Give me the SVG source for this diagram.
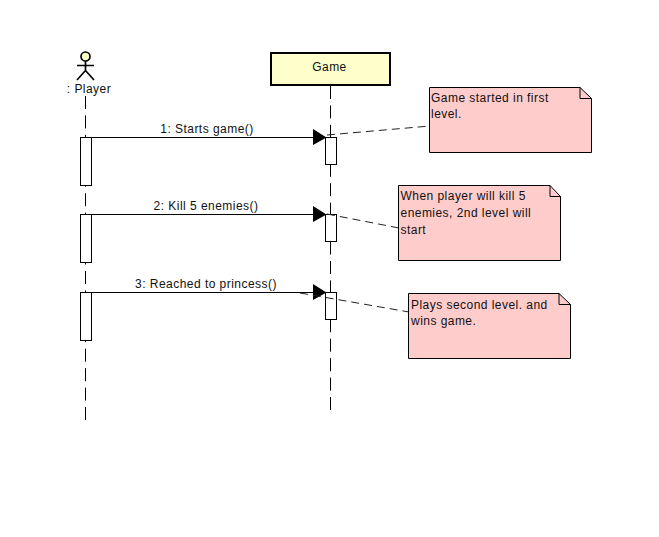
<svg xmlns="http://www.w3.org/2000/svg" width="659" height="537" viewBox="0 0 659 537">
<style>
text{font-family:"Liberation Sans",Arial,sans-serif;font-size:12px;letter-spacing:.46px;fill:#111}
.ll{stroke:#000;stroke-width:1;stroke-dasharray:13 6.44;fill:none}
.act{fill:#fff;stroke:#000;stroke-width:1}
.msg{stroke:#000;stroke-width:1;fill:none}
.head{fill:#000;stroke:none}
.nl{stroke:#222;stroke-width:1;stroke-dasharray:8 5;fill:none}
.note{fill:#ffcccc;stroke:#000;stroke-width:1}
.fold{fill:none;stroke:#000;stroke-width:1}
</style>
<g id="lifelines">
<path class="ll" d="M85.500 96V421"/>
<path class="ll" d="M330.500 86V411"/>
</g>
<g id="player">
<circle cx="85.500" cy="56.500" r="4.500" fill="#ffffcc" stroke="#000" stroke-width="1.700"/>
<path d="M85.500 61V71M77 65.500H94M85.500 70.500L77 80M85.500 70.500L94 80" stroke="#000" stroke-width="1.700" fill="none"/>
<text x="89" y="93" text-anchor="middle">: Player</text>
</g>
<g id="game">
<rect x="271" y="53" width="119" height="32" fill="#ffffcc" stroke="#000" stroke-width="2"/>
<text x="329.500" y="71" text-anchor="middle">Game</text>
</g>
<g id="activations">
<rect class="act" x="80.500" y="137.500" width="11" height="48"/>
<rect class="act" x="80.500" y="214.500" width="11" height="48"/>
<rect class="act" x="80.500" y="292.500" width="11" height="48"/>
<rect class="act" x="325.500" y="137.500" width="11" height="27"/>
<rect class="act" x="325.500" y="214.500" width="11" height="27"/>
<rect class="act" x="325.500" y="292.500" width="11" height="27"/>
</g>
<g id="connectors">
<path class="msg" d="M91 137.500H314M91 214.500H314M91 292.500H314"/>
<polygon class="head" points="313,129 326.500,137.500 313,145"/>
<polygon class="head" points="313,206 326.500,214.500 313,222"/>
<polygon class="head" points="313,284 326.500,292.500 313,300"/>
<path class="nl" d="M327 135L430 126"/>
<path class="nl" d="M327 214L399 228"/>
<path class="nl" d="M300 293L409 312"/>
</g>
<g id="messages">
<text x="207" y="133" text-anchor="middle">1: Starts game()</text>
<text x="206" y="210" text-anchor="middle">2: Kill 5 enemies()</text>
<text x="206" y="288" text-anchor="middle">3: Reached to princess()</text>
</g>
<g id="note1">
<path class="note" d="M429.500 87.500H580L591.500 98.500V152.500H429.500Z"/>
<path class="fold" d="M580 87.500V98.500H591.500"/>
<text x="431" y="102">Game started in first</text>
<text x="431" y="118">level.</text>
</g>
<g id="note2">
<path class="note" d="M398.500 185.500H550L560.500 196.500V260.500H398.500Z"/>
<path class="fold" d="M550 185.500V196.500H560.500"/>
<text x="400.500" y="200">When player will kill 5</text>
<text x="400.500" y="217">enemies, 2nd level will</text>
<text x="400.500" y="234">start</text>
</g>
<g id="note3">
<path class="note" d="M408.500 293.500H559L570.500 304.500V358.500H408.500Z"/>
<path class="fold" d="M559 293.500V304.500H570.500"/>
<text x="411" y="309">Plays second level. and</text>
<text x="411" y="325">wins game.</text>
</g>
</svg>
